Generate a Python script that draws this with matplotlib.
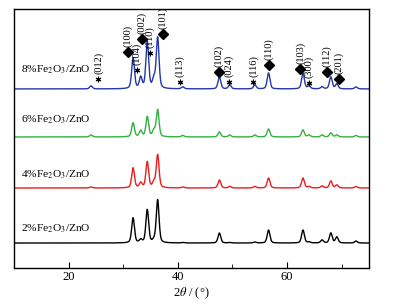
import numpy as np
import matplotlib
matplotlib.use('Agg')
import matplotlib.pyplot as plt
from matplotlib.ticker import MultipleLocator

# peak positions (2theta) and heights
peak_pos = [24.1, 31.8, 33.2, 34.4, 35.6, 36.3, 40.9, 47.6, 49.5, 54.1,
            56.6, 62.9, 64.0, 66.4, 68.0, 69.1, 72.6]
h_2 = [0, 25, 3, 33, 2, 43, 0.5, 10, 0.5, 1, 13, 13, 1, 3, 10, 6, 2]
h_4 = [1, 20, 5, 26, 5, 33, 1, 8, 1.5, 1.5, 10, 10, 1.5, 2, 7, 3, 1.5]
h_6 = [2, 14, 6, 20, 6, 27, 1.5, 5, 2, 2, 8, 7, 2, 2, 4, 2, 1.5]
h_8 = [3, 31, 11, 47, 9, 51, 2, 12, 4, 4, 16, 16, 3, 2, 12, 5, 2]

samples = ['2%Fe$_2$O$_3$/ZnO', '4%Fe$_2$O$_3$/ZnO',
           '6%Fe$_2$O$_3$/ZnO', '8%Fe$_2$O$_3$/ZnO']
heights = [h_2, h_4, h_6, h_8]
offsets = [25, 80, 131, 179]
label_y = [39, 93, 148, 198]
colors = ['black', '#ee1c1c', '#33b040', '#2338a8']

# reflection labels on the 8% pattern
hkl = ['(012)', '(100)', '(104)', '(002)', '(110)', '(101)', '(113)',
       '(102)', '(024)', '(116)', '(110)', '(103)', '(300)', '(112)', '(201)']
hkl_x = [25.45, 30.9, 32.5, 33.45, 34.9, 37.3, 40.4,
         47.45, 49.3, 53.8, 56.7, 62.4, 64.0, 67.3, 69.45]
hkl_y = [189, 216, 198, 229, 215, 234, 186,
         196, 186, 186, 203, 199, 185, 196, 189]
hkl_kind = ['*', 'D', '*', 'D', '*', 'D', '*',
            'D', '*', '*', 'D', 'D', '*', 'D', 'D']

plt.rcParams['font.family'] = ['Liberation Serif', 'DejaVu Serif']
plt.rcParams['mathtext.fontset'] = 'stix'


def profile(x, pos, hts, w=0.6):
    y = np.zeros_like(x)
    for p, h in zip(pos, hts):
        g = np.exp(-4 * np.log(2) * (x - p) ** 2 / w ** 2)
        l = 1 / (1 + 4 * (x - p) ** 2 / w ** 2)
        y += h * (0.6 * g + 0.4 * l)
    return y


fig = plt.figure(figsize=(3.99, 3.06), dpi=100)
ax = fig.add_axes([0.035, 0.124, 0.89, 0.847])

x = np.linspace(10, 75, 3000)
for name, hts, off, ly, c in zip(samples, heights, offsets, label_y, colors):
    ax.plot(x, profile(x, peak_pos, hts) + off, color=c, lw=1.0)
    ax.text(11.3, ly, name, fontsize=8.2, va='center', ha='left')

for lab, px, py, k in zip(hkl, hkl_x, hkl_y, hkl_kind):
    if k == 'D':
        ax.plot(px, py, marker='D', ms=5.5, color='black', ls='none')
    else:
        ax.plot(px, py, marker=(6, 2, 0), ms=4, mew=0.8, color='black', ls='none')
    ax.text(px, py + 5, lab, rotation=90, fontsize=7.5,
            ha='center', va='bottom')

ax.set_xlim(10, 75)
ax.set_ylim(0, 259)
ax.set_yticks([])
ax.xaxis.set_major_locator(MultipleLocator(20))
ax.xaxis.set_minor_locator(MultipleLocator(10))
ax.tick_params(axis='x', which='major', direction='in', length=4, labelsize=9, pad=2)
ax.tick_params(axis='x', which='minor', direction='in', length=3)
ax.set_xlabel(r'2$\theta$ / (°)', fontsize=9, labelpad=2)
for s in ax.spines.values():
    s.set_linewidth(1.0)

fig.savefig('out.png', dpi=100)
